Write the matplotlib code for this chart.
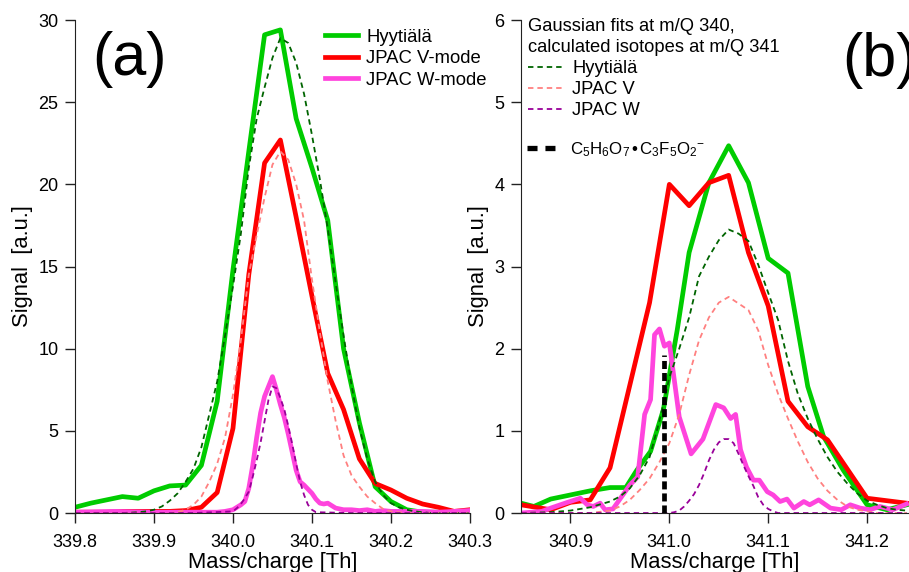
import matplotlib
matplotlib.use("Agg")
import matplotlib.pyplot as plt
from matplotlib.lines import Line2D

plt.rcParams['font.family'] = ['Liberation Sans', 'DejaVu Sans']
plt.rcParams['mathtext.fontset'] = 'custom'
plt.rcParams['mathtext.rm'] = 'Liberation Sans'
plt.rcParams['mathtext.it'] = 'Liberation Sans:italic'

# ---------------- panel (a): m/Q 340 ----------------
x_a = [339.80, 339.82, 339.84, 339.86, 339.88, 339.90, 339.92, 339.94, 339.96, 339.98,
       340.00, 340.02, 340.04, 340.06, 340.08, 340.10, 340.12, 340.14, 340.16, 340.18,
       340.20, 340.22, 340.24, 340.26, 340.28, 340.30]
hyy_a = [0.35, 0.6, 0.8, 1.0, 0.9, 1.35, 1.65, 1.7, 2.9, 6.8,
         14.8, 22.0, 29.1, 29.4, 24.0, 21.0, 17.8, 10.0, 5.5, 1.6,
         0.7, 0.2, 0.05, 0.05, 0.05, 0.05]
jv_a = [0.05, 0.05, 0.05, 0.1, 0.1, 0.1, 0.1, 0.15, 0.35, 1.25,
        5.15, 14.5, 21.3, 22.7, 18.0, 13.2, 8.5, 6.3, 3.3, 1.8,
        1.4, 0.9, 0.55, 0.35, 0.1, 0.2]

xw_a = [339.80, 339.85, 339.90, 339.95, 339.98, 339.99, 339.995, 340.000, 340.005, 340.010,
        340.015, 340.020, 340.025, 340.030, 340.035, 340.040, 340.045, 340.050, 340.055, 340.060,
        340.065, 340.070, 340.075, 340.080, 340.085, 340.090, 340.095, 340.100, 340.105, 340.110,
        340.115, 340.120, 340.125, 340.130, 340.135, 340.14, 340.15, 340.16, 340.17, 340.18,
        340.19, 340.20, 340.22, 340.24, 340.26, 340.28, 340.30]
jw_a = [0.05, 0.1, 0.05, 0.05, 0.05, 0.1, 0.15, 0.2, 0.35, 0.5,
        0.7, 1.5, 2.9, 4.6, 6.1, 7.1, 7.7, 8.3, 7.5, 6.6,
        5.8, 4.8, 3.7, 2.6, 1.9, 1.7, 1.45, 1.2, 0.85, 0.6,
        0.55, 0.6, 0.45, 0.3, 0.25, 0.2, 0.2, 0.15, 0.2, 0.1,
        0.15, 0.1, 0.1, 0.1, 0.05, 0.1, 0.15]

# gaussian fits at 0.01 Th
xf_a = [339.80, 339.81, 339.82, 339.83, 339.84, 339.85, 339.86, 339.87, 339.88, 339.89,
        339.90, 339.91, 339.92, 339.93, 339.94, 339.95, 339.96, 339.97, 339.98, 339.99,
        340.00, 340.01, 340.02, 340.03, 340.04, 340.05, 340.06, 340.07, 340.08, 340.09,
        340.10, 340.11, 340.12, 340.13, 340.14, 340.15, 340.16, 340.17, 340.18, 340.19,
        340.20, 340.21, 340.22, 340.23, 340.24, 340.25, 340.26, 340.27, 340.28, 340.29,
        340.30]
fit_hyy_a = [0, 0, 0, 0, 0, 0, 0, 0.02, 0.05, 0.1,
             0.2, 0.4, 0.75, 1.2, 1.9, 2.7, 4.0, 6.0, 8.0, 10.8,
             13.8, 17.0, 21.0, 24.0, 25.9, 27.7, 28.9, 28.6, 27.4, 25.5,
             23.0, 20.3, 17.3, 14.0, 10.8, 7.8, 5.2, 3.3, 1.9, 1.1,
             0.6, 0.35, 0.2, 0.1, 0.05, 0, 0, 0, 0, 0,
             0]
fit_jv_a = [0, 0, 0, 0, 0, 0, 0, 0, 0, 0,
            0, 0, 0, 0.05, 0.2, 0.5, 1.0, 1.9, 3.0, 4.6,
            7.2, 10.5, 14.5, 16.9, 19.2, 21.2, 22.0, 21.5, 20.0, 17.8,
            14.2, 11.0, 8.0, 5.6, 3.5, 2.3, 1.6, 1.0, 0.6, 0.25,
            0.1, 0.05, 0, 0, 0, 0, 0, 0, 0, 0,
            0]
xfw_a = [339.80, 339.95, 340.000, 340.005, 340.010, 340.015, 340.020, 340.025, 340.030, 340.035,
         340.040, 340.045, 340.050, 340.055, 340.060, 340.065, 340.070, 340.075, 340.080, 340.085,
         340.090, 340.095, 340.100, 340.105, 340.15, 340.30]
fit_jw_a = [0, 0, 0.1, 0.3, 0.55, 0.9, 1.3, 2.2, 3.2, 4.3,
            5.6, 6.9, 7.7, 7.6, 7.0, 6.3, 5.3, 4.2, 3.0, 1.9,
            1.1, 0.5, 0.2, 0.05, 0, 0]

# ---------------- panel (b): m/Q 341 ----------------
xh_b = [340.85, 340.863, 340.88, 340.90, 340.92, 340.94, 340.956, 340.967, 340.981, 340.994,
        341.008, 341.02, 341.04, 341.06, 341.08, 341.10, 341.12, 341.13, 341.14, 341.156,
        341.176, 341.20, 341.22, 341.24]
hyy_b = [0.12, 0.08, 0.17, 0.22, 0.27, 0.31, 0.31, 0.52, 0.75, 1.26,
         2.23, 3.17, 4.02, 4.47, 4.02, 3.1, 2.92, 2.23, 1.54, 0.93,
         0.52, 0.1, 0.04, 0.1]
xv_b = [340.85, 340.88, 340.90, 340.92, 340.94, 340.98, 341.00, 341.02, 341.04, 341.06,
        341.08, 341.10, 341.12, 341.14, 341.16, 341.20, 341.24]
jv_b = [0.1, 0.04, 0.13, 0.16, 0.55, 2.56, 4.0, 3.74, 4.02, 4.11,
        3.17, 2.52, 1.36, 1.05, 0.89, 0.18, 0.12]
xw_b = [340.85, 340.871, 340.88, 340.897, 340.91, 340.917, 340.923, 340.93, 340.935, 340.943,
        340.96, 340.968, 340.975, 340.981, 340.985, 340.99, 340.995, 341.0, 341.01, 341.022,
        341.034, 341.047, 341.055, 341.062, 341.067, 341.072, 341.078, 341.085, 341.091, 341.099,
        341.105, 341.112, 341.119, 341.126, 341.136, 341.142, 341.151, 341.163, 341.174, 341.183,
        341.193, 341.203, 341.213, 341.226, 341.24]
jw_b = [0.0, 0.02, 0.06, 0.13, 0.18, 0.1, 0.08, 0.12, 0.04, 0.05,
        0.34, 0.44, 1.2, 1.38, 2.17, 2.24, 2.03, 2.07, 1.17, 0.72,
        0.9, 1.32, 1.28, 1.15, 1.2, 0.77, 0.56, 0.4, 0.4, 0.26,
        0.22, 0.14, 0.17, 0.06, 0.14, 0.1, 0.16, 0.06, 0.04, 0.1,
        0.06, 0.04, 0.08, 0.04, 0.11]

# calculated isotopes
xf_b = [340.85, 340.88, 340.90, 340.92, 340.94, 340.95, 340.96, 340.97, 340.98, 340.99,
        341.00, 341.01, 341.02, 341.03, 341.04, 341.05, 341.06, 341.07, 341.08, 341.09,
        341.10, 341.11, 341.12, 341.13, 341.14, 341.15, 341.16, 341.17, 341.18, 341.19,
        341.20, 341.21, 341.22, 341.23, 341.24]
fit_hyy_b = [0.0, 0.01, 0.03, 0.07, 0.14, 0.2, 0.3, 0.46, 0.68, 1.12,
             1.65, 2.0, 2.38, 2.88, 3.12, 3.32, 3.45, 3.4, 3.31, 3.02,
             2.68, 2.35, 1.85, 1.45, 1.15, 0.9, 0.68, 0.5, 0.36, 0.24,
             0.15, 0.1, 0.06, 0.04, 0.03]
fit_jv_b = [0.0, 0.0, 0.0, 0.0, 0.03, 0.08, 0.16, 0.28, 0.42, 0.62,
            0.85, 1.2, 1.68, 2.1, 2.38, 2.56, 2.63, 2.55, 2.47, 2.22,
            1.8, 1.45, 1.15, 0.87, 0.62, 0.42, 0.27, 0.16, 0.08, 0.04,
            0.02, 0.0, 0.0, 0.0, 0.0]
xfw_b = [340.85, 341.00, 341.005, 341.010, 341.015, 341.020, 341.025, 341.030, 341.035, 341.040,
         341.045, 341.050, 341.055, 341.060, 341.065, 341.070, 341.075, 341.080, 341.085, 341.090,
         341.095, 341.100, 341.105, 341.110, 341.24]
fit_jw_b = [0, 0, 0.01, 0.03, 0.08, 0.15, 0.23, 0.34, 0.48, 0.64,
            0.77, 0.86, 0.9, 0.9, 0.85, 0.72, 0.58, 0.45, 0.33, 0.19,
            0.1, 0.05, 0.02, 0, 0]

# expected position of C5H6O7.C3F5O2-
cluster_mass = 340.9946
cluster_height = 1.92

c_green = '#00cc00'
c_red = '#ff0000'
c_pink = '#ff44dd'
c_dgreen = '#006400'
c_salmon = '#ff8080'
c_purple = '#990099'

fig = plt.figure(figsize=(9.09, 5.72), dpi=100)
ax1 = fig.add_axes([0.0825, 0.1031, 0.4345, 0.8619])
ax2 = fig.add_axes([0.5732, 0.1031, 0.4268, 0.8619])

lw_s = 3.4
lw_d = 1.3
ds = (3, 2.2)

ax1.plot(x_a, hyy_a, color=c_green, lw=lw_s, label='Hyytiälä')
ax1.plot(x_a, jv_a, color=c_red, lw=lw_s, label='JPAC V-mode')
ax1.plot(xw_a, jw_a, color=c_pink, lw=lw_s, label='JPAC W-mode')
ax1.plot(xf_a, fit_hyy_a, color=c_dgreen, lw=lw_d, dashes=ds)
ax1.plot(xf_a, fit_jv_a, color=c_salmon, lw=lw_d, dashes=ds)
ax1.plot(xfw_a, fit_jw_a, color=c_purple, lw=lw_d, dashes=ds)

ax2.plot(xh_b, hyy_b, color=c_green, lw=lw_s)
ax2.plot(xv_b, jv_b, color=c_red, lw=lw_s)
ax2.plot(xw_b, jw_b, color=c_pink, lw=lw_s)
ax2.plot(xf_b, fit_hyy_b, color=c_dgreen, lw=lw_d, dashes=ds, label='Hyytiälä')
ax2.plot(xf_b, fit_jv_b, color=c_salmon, lw=lw_d, dashes=ds, label='JPAC V')
ax2.plot(xfw_b, fit_jw_b, color=c_purple, lw=lw_d, dashes=ds, label='JPAC W')
ax2.plot([cluster_mass, cluster_mass], [0, cluster_height], color='black', lw=3.4,
         dashes=(1.7, 0.85))

ax1.set_xlim(339.8, 340.3)
ax1.set_ylim(0, 30)
ax1.set_xticks([339.8, 339.9, 340.0, 340.1, 340.2, 340.3])
ax1.set_xticklabels(['339.8', '339.9', '340.0', '340.1', '340.2', '340.3'])
ax1.set_yticks([0, 5, 10, 15, 20, 25, 30])

ax2.set_xlim(340.85, 341.2424)
ax2.set_ylim(0, 6)
ax2.set_xticks([340.9, 341.0, 341.1, 341.2])
ax2.set_xticklabels(['340.9', '341.0', '341.1', '341.2'])
ax2.set_yticks([0, 1, 2, 3, 4, 5, 6])

for ax in (ax1, ax2):
    ax.spines['top'].set_visible(False)
    ax.spines['right'].set_visible(False)
    ax.spines['left'].set_color('#222222')
    ax.spines['bottom'].set_color('#222222')
    ax.tick_params(direction='out', length=7, width=1, colors='#222222', labelcolor='black',
                   labelsize=13)
    ax.tick_params(axis='x', pad=8)
    ax.tick_params(axis='y', pad=5)
    ax.set_xlabel('Mass/charge [Th]', fontsize=15.8, labelpad=0.8)
    ax.set_ylabel('Signal  [a.u.]', fontsize=15.8, labelpad=4)
    for sp in ax.spines.values():
        sp.set_clip_on(False)

ax1.text(0.137, 0.92, '(a)', transform=ax1.transAxes, fontsize=44, ha='center', va='center')
ax2.text(0.827, 0.918, '(b)', transform=ax2.transAxes, fontsize=44, ha='left', va='center',
         clip_on=False)

ax1.legend(loc='upper left', bbox_to_anchor=(0.633, 0.982), frameon=False, fontsize=13.3,
           handlelength=1.8, handletextpad=0.43, labelspacing=0.24, borderpad=0,
           borderaxespad=0)

leg_fit = ax2.legend(loc='upper left', bbox_to_anchor=(0.018, 1.004), frameon=False,
                     fontsize=13.2,
                     title='Gaussian fits at m/Q 340,\ncalculated isotopes at m/Q 341',
                     title_fontsize=13.2, alignment='left',
                     handlelength=2.0, handletextpad=0.4, labelspacing=0.22, borderpad=0,
                     borderaxespad=0)
leg_fit.get_title().set_linespacing(1.3)
ax2.add_artist(leg_fit)
black_handle = Line2D([], [], color='black', lw=3.8, dashes=(1.9, 1.5))
ax2.legend([black_handle], [r'C$_5$H$_6$O$_7$$\,$•$\,$C$_3$F$_5$O$_2$$^{-}$'],
           loc='upper left', bbox_to_anchor=(0.015, 0.757), frameon=False, fontsize=12.2,
           handlelength=1.7, handletextpad=0.85, borderpad=0, borderaxespad=0)

fig.savefig('out.png', dpi=100)
